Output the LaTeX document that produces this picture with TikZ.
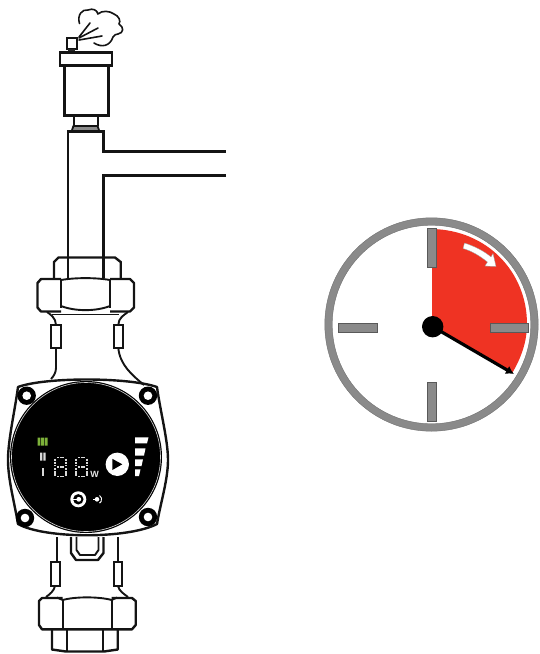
\documentclass[tikz,border=0pt]{standalone}
\usepackage{fontspec}
\setmainfont{Liberation Sans}
\usetikzlibrary{arrows.meta}
\definecolor{ringgray}{HTML}{8A8A8A}
\definecolor{sectorred}{HTML}{EF3323}
\definecolor{leafgreen}{HTML}{7DB13A}
\tikzset{
  ol/.style={draw=black!92,line width=2.4pt,line join=miter,fill=none},
  oln/.style={draw=black!92,line width=1.9pt,line join=round,fill=none},
  tick/.style={fill=ringgray,draw=black!65,line width=.5pt},
  seg/.style={draw=white!85!black,line width=1.5pt,dash pattern=on 2.4pt off .8pt},
}
\begin{document}
\begin{tikzpicture}[x=1pt,y=-1pt]
\useasboundingbox (0,0) rectangle (540,654);
% ===== air vent =====
\draw[ol,line width=2pt] (66.5,38) rectangle (76.5,49);
\fill[black!85] (68,49) rectangle (75,52);
\draw[oln,line width=1.6pt,line cap=round]
  (79,37) -- (90,23) (79,38) -- (98,28) (79,40) -- (102,36);
\draw[oln,line width=1.6pt,line cap=round]
  (79.5,23.5) .. controls (77,15) and (82,9) .. (88,10)
  .. controls (93,8) and (97,10) .. (98,14)
  .. controls (102,10) and (110,11) .. (114,14)
  .. controls (119,16) and (121,21) .. (119,24)
  .. controls (124,27) and (124,33) .. (118,34)
  .. controls (116,34) and (114,35) .. (113,37)
  .. controls (110,46) and (102,48) .. (94,43);
\draw[ol] (60,52.5) rectangle (112,65.5);
\draw[ol] (64.3,65.5) rectangle (108.3,115.5);
\draw[ol,line width=2pt] (73.5,115.5) -- (73.5,126) (97.5,115.5) -- (97.5,126);
\fill[black!45] (72,126) rectangle (99,130);
\draw[ol,line width=1.8pt] (72,130) -- (73.5,126) -- (97.5,126) -- (99,130);
% ===== T pipe =====
\draw[ol] (68,278) -- (68,131.3) -- (103.5,131.3) -- (103.5,151.5) -- (226,151.5);
\draw[ol] (226,175.3) -- (103.5,175.3) -- (103.5,278);
% ===== upper nuts =====
\draw[ol] (54,278) -- (54,262) -- (58.5,257.5) -- (115,257.5) -- (120.7,262) -- (120.7,278);
\draw[ol,line join=round] (61,279) -- (41,279) -- (37.5,283) -- (37.5,307.5) -- (41,311.5) -- (61,311.5);
\draw[ol,line join=round] (110,279) -- (130,279) -- (134,283) -- (134,307.5) -- (130,311.5) -- (110,311.5);
\draw[ol] (61,280) -- (61,308) (110,280) -- (110,308);
\draw[oln] (61,280) .. controls (75,277.5) and (96,277.5) .. (110,280);
\draw[oln] (61,306) .. controls (75,311.5) and (96,311.5) .. (110,306);
\draw[oln] (52,314.5) -- (119,314.5);
% ===== upper neck =====
\draw[oln] (47,312) .. controls (50,314) and (56,318) .. (56,325);
\draw[oln] (128,312) .. controls (124,315) and (118.3,318) .. (118.3,325);
\draw[ol,line width=2pt] (51,325) rectangle (60.5,348);
\draw[ol,line width=2pt] (113.5,325) rectangle (123,348);
\draw[oln] (56,348) -- (56,368) .. controls (56,372) and (54,376) .. (51,379);
\draw[oln] (118.3,348) .. controls (120,365) and (132,375) .. (144,385);
% ===== housing =====
\filldraw[fill=white,ol,line join=round]
  (18,387) .. controls (45,377) and (128,377) .. (157,387)
  .. controls (160,410) and (168,440) .. (168,460)
  .. controls (168,480) and (160,505) .. (157,524)
  .. controls (128,539) and (45,539) .. (18,524)
  .. controls (15,505) and (8,480) .. (8,460)
  .. controls (8,440) and (15,410) .. (18,387) -- cycle;
% mounting screws
\foreach \p in {(26.7,395.7),(148,395.7),(25,518),(148,517)} {
  \fill[black] \p circle (9.2);
  \fill[white] \p circle (4.3);
}
% display disc
\fill[black] (86,457) circle (76);
\draw[white!85!black,line width=.6pt] (86,457) circle (74.5);
% ===== level bars =====
\fill[leafgreen] (37.5,437.7) rectangle (40.3,445.7) (41.2,437.7) rectangle (44,445.7) (44.9,437.7) rectangle (47.7,445.7);
\fill[white!85!black] (40,452.7) rectangle (42.4,460.7) (43.3,452.7) rectangle (45.7,460.7);
\fill[white!85!black] (41.7,468) rectangle (43.7,476);
% ===== 7 segment digits =====
\foreach \x in {55,76} {
  \draw[seg] (\x+2,457.5) -- (\x+9,457.5) (\x+2,467) -- (\x+9,467) (\x+2,476.7) -- (\x+9,476.7);
  \draw[seg] (\x,458.5) -- (\x,466) (\x,468) -- (\x,475.5);
  \draw[seg] (\x+11,458.5) -- (\x+11,466) (\x+11,468) -- (\x+11,475.5);
}
\node[text=white!90!black,font=\bfseries\fontsize{9}{9}\selectfont,inner sep=0pt] (unit) at (94.5,474) {W};
% ===== play button =====
\fill[white] (117.3,464.3) circle (11.7);
\fill[black] (112.3,458.8) -- (112.3,470) -- (122.3,464.3) -- cycle;
% ===== speed wedges =====
\fill[white] (135,437.3) -- (148.5,437.3) -- (147,443.3) -- (135,443.3) -- cycle;
\fill[white] (135,448.3) -- (145.5,448.3) -- (144,455.7) -- (135,455.7) -- cycle;
\fill[white] (135,459.3) -- (143,459.3) -- (141.5,466) -- (135,466) -- cycle;
\fill[white] (135,469.3) -- (140.5,469.3) -- (139,476) -- (135,476) -- cycle;
% ===== small icons =====
\fill[white] (78.3,499.3) circle (8);
\fill[black] (78.3,499.3) circle (5.2);
\fill[white] (78.8,499.3) circle (2.4);
\fill[white] (73,498.5) rectangle (77,500.1);
\fill[white] (97,499.3) circle (2.3);
\draw[white,line width=.9pt] (99.5,495.5) arc (-60:60:4.4);
\fill[white] (93,498.7) rectangle (96,499.9);
% ===== lower block =====
\draw[ol,line join=round] (71,537) -- (71,553) -- (76,560) -- (98,560) -- (103.5,553) -- (103.5,537);
\draw[oln] (76.5,537) -- (76.5,550) -- (80,555) -- (95,555) -- (98.5,550) -- (98.5,537);
% ===== lower neck =====
\draw[oln] (56.7,537) -- (56.7,562);
\draw[oln] (117.7,537) -- (117.7,562);
\draw[ol,line width=2pt] (51,562.3) rectangle (59.5,585.7);
\draw[ol,line width=2pt] (113.5,562.3) rectangle (122.3,585.7);
\draw[oln] (55,586) .. controls (54,591) and (50,594) .. (46,597);
\draw[oln] (118,586) .. controls (119,591) and (124,594) .. (128,597);
% ===== lower nuts =====
\draw[ol,line join=round] (62.7,598) -- (42,598) -- (39,601) -- (39,625) -- (42,629.3) -- (132,629.3) -- (135.7,625) -- (135.7,601) -- (132,598) -- (111.7,598);
\draw[oln] (62.7,600) -- (62.7,629) (111.7,600) -- (111.7,629);
\draw[oln] (57,597.5) -- (62.7,600) .. controls (75,596.5) and (99,596.5) .. (111.7,600) -- (117,597.5);
\draw[ol,line join=round] (52,629.3) -- (52,649.5) -- (66,651.5) -- (104,651.5) -- (117.7,649.5) -- (117.7,629.3);
\draw[oln] (67.3,629.3) -- (67.3,651) (103.3,629.3) -- (103.3,651);
% ===== clock =====
\fill[sectorred] (432,229) .. controls (487,230) and (527,272) .. (527,324)
  .. controls (527,342) and (521,358) .. (512.5,372.5) -- (432,327) -- cycle;
\draw[ringgray,line width=7.5pt] (431.5,324.5) circle (103);
\draw[black!55,line width=.4pt] (431.5,324.5) circle (106.7);
\draw[black!55,line width=.4pt] (431.5,324.5) circle (99.3);
\draw[tick] (427.3,228) rectangle (436.7,267);
\draw[tick] (427.3,382) rectangle (436.7,421);
\draw[tick] (338.5,323) rectangle (377,332);
\draw[tick] (490,323) rectangle (528,332);
% white rotation arrow
\fill[white,draw=black!40,line width=.3pt] (464.5,243) .. controls (474,246) and (484,251) .. (491,257)
  -- (493,253.5) -- (496,266.5) -- (485,266) -- (487.5,262)
  .. controls (480,256) and (472,251) .. (463,248.5) -- cycle;
% hand
\coordinate (hub) at (432.7,326.7);
\coordinate (tip) at (514,374);
\draw[black,line width=3.2pt,-{Latex[length=8pt,width=9pt]}] (hub) -- (tip);
\fill[black] (hub) circle (10.7);
\end{tikzpicture}
\end{document}
